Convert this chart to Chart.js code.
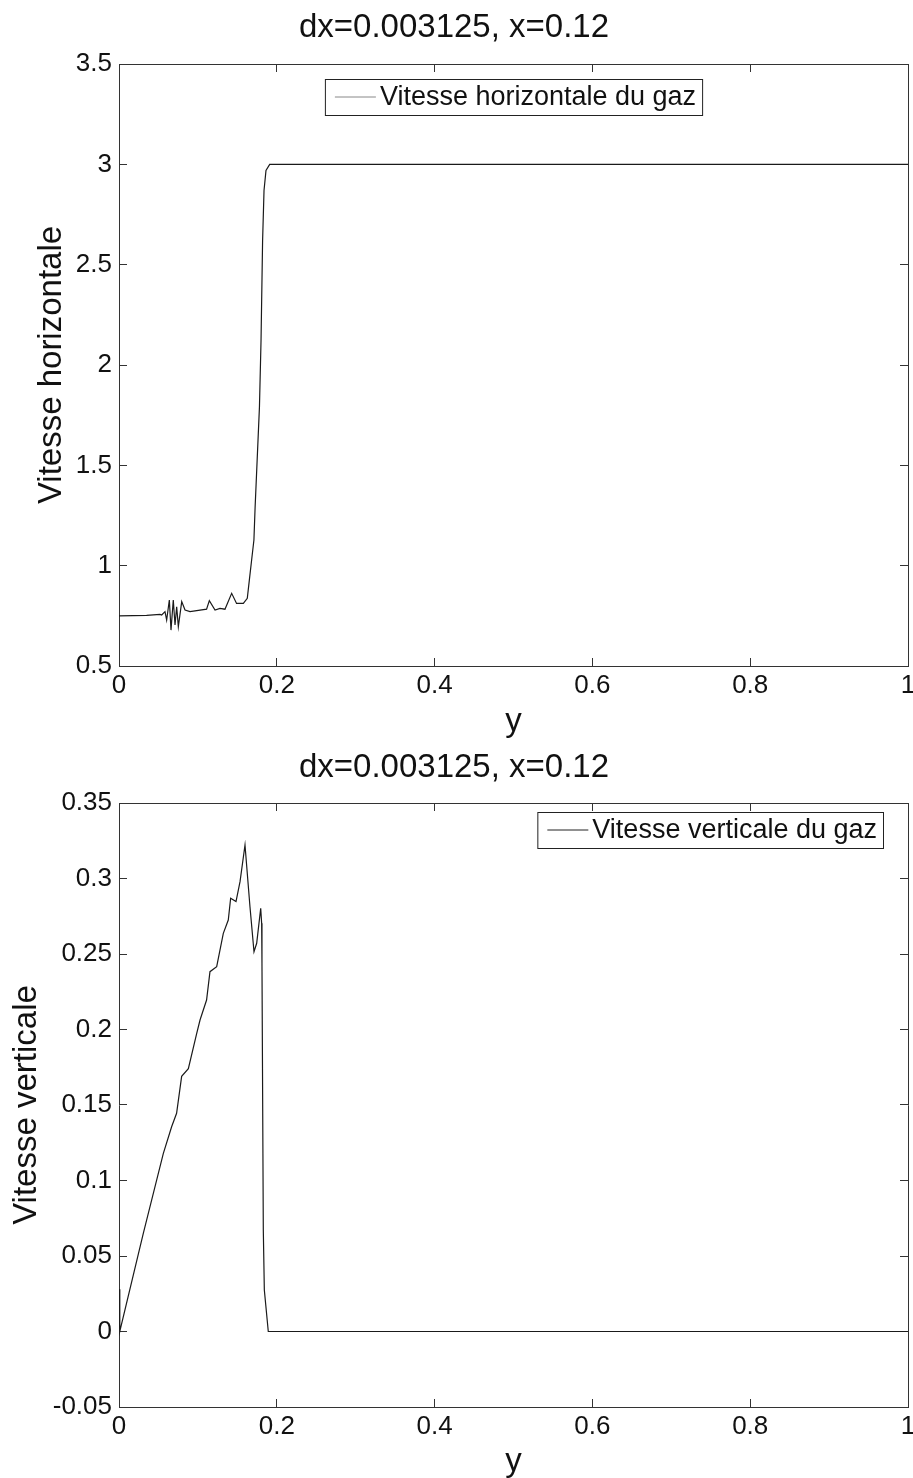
<!DOCTYPE html>
<html>
<head>
<meta charset="utf-8">
<script src="https://cdn.jsdelivr.net/npm/chart.js@4"></script>
<style>
  body { margin: 0; background: #fff; }
  .wrap { position: absolute; left: 0; width: 913px; }
</style>
</head>
<body>
<div class="wrap" style="top:0;height:740px"><canvas id="chartU" width="913" height="740"></canvas></div>
<div class="wrap" style="top:740px;height:738px"><canvas id="chartV" width="913" height="738"></canvas></div>
<script>
// horizontal gas velocity vs y
const yPosU = [0, 0.035, 0.052, 0.0541, 0.0583, 0.0604, 0.0638, 0.0659, 0.0688, 0.071, 0.0731,
  0.0752, 0.0795, 0.0837, 0.09, 0.0985, 0.111, 0.1145, 0.1217, 0.128, 0.1343, 0.1428, 0.149,
  0.1576, 0.1626, 0.1652, 0.1681, 0.171, 0.1725, 0.178, 0.18, 0.182, 0.1838, 0.1863, 0.191, 1];
const velU = [0.75, 0.752, 0.757, 0.754, 0.771, 0.729, 0.829, 0.679, 0.829, 0.704, 0.795,
  0.696, 0.821, 0.779, 0.771, 0.776, 0.783, 0.826, 0.779, 0.787, 0.783, 0.862, 0.812,
  0.812, 0.837, 0.928, 1.028, 1.128, 1.29, 1.79, 2.12, 2.62, 2.87, 2.97, 3.0, 3.0];

// vertical gas velocity vs y
const yPosV = [0, 0.001, 0.0308, 0.0562, 0.0667, 0.073, 0.0794, 0.0879, 0.0985, 0.1027, 0.111,
  0.1153, 0.1238, 0.1322, 0.1385, 0.1415, 0.1483, 0.1534, 0.1597, 0.166, 0.1711, 0.1745,
  0.1796, 0.1808, 0.1812, 0.1829, 0.1842, 0.1892, 1];
const velV = [0.028, 0.0, 0.065, 0.118, 0.1356, 0.1445, 0.169, 0.174, 0.1975, 0.2063, 0.2195,
  0.2383, 0.2416, 0.2637, 0.2725, 0.2869, 0.2847, 0.2979, 0.3222, 0.2813, 0.2515, 0.2571,
  0.2803, 0.2703, 0.2439, 0.0672, 0.0275, 0.0, 0.0];

const xTicks = [0, 0.2, 0.4, 0.6, 0.8, 1];
const yTicksU = [0.5, 1, 1.5, 2, 2.5, 3, 3.5];
const yTicksV = [-0.05, 0, 0.05, 0.1, 0.15, 0.2, 0.25, 0.3, 0.35];

const titleText = "dx=0.003125, x=0.12";
const FONT = "'Liberation Sans', Arial, Helvetica, sans-serif";
const AXIS = "#333";

// legend drawn as a framed box inside the plot, like the MATLAB one
const boxLegend = {
  id: "boxLegend",
  afterDraw(chart, args, opts) {
    const { ctx, chartArea } = chart;
    const ds = chart.data.datasets[0];
    ctx.save();
    ctx.font = "27px " + FONT;
    const tw = ctx.measureText(ds.label).width;
    const w = 10 + 41 + 4 + tw + 6;
    const h = 36;
    const x = opts.align === "center"
      ? (chartArea.left + chartArea.right) / 2 - w / 2
      : chartArea.right - opts.margin - w;
    const y = chartArea.top + opts.top;
    ctx.fillStyle = "#fff";
    ctx.fillRect(x, y, w, h);
    ctx.strokeStyle = "#222";
    ctx.lineWidth = 1;
    ctx.strokeRect(x + 0.5, y + 0.5, w, h);
    ctx.strokeStyle = opts.sampleColor;
    ctx.beginPath();
    ctx.moveTo(x + 10, y + h / 2);
    ctx.lineTo(x + 51, y + h / 2);
    ctx.stroke();
    ctx.fillStyle = "#111";
    ctx.textBaseline = "middle";
    ctx.fillText(ds.label, x + 55, y + h / 2 + 1);
    ctx.restore();
  },
};

const noPad = (s) => { s.paddingLeft = 0; s.paddingRight = 0; s.paddingTop = 0; s.paddingBottom = 0; };

function makeChart(id, label, xs, ys, yTicks, yTitle, opt) {
  const ctx = document.getElementById(id);
  const tickGrid = { drawOnChartArea: false, drawTicks: true, tickLength: -8, color: AXIS };
  const border = { display: true, color: AXIS, width: 1 };
  return new Chart(ctx, {
    type: "line",
    data: {
      datasets: [{
        label: label,
        data: xs.map((x, i) => ({ x: x, y: ys[i] })),
        borderColor: "#1a1a1a",
        borderWidth: 1.2,
        pointRadius: 0,
        tension: 0,
        fill: false,
      }],
    },
    options: {
      responsive: false,
      animation: false,
      devicePixelRatio: 1,
      layout: { padding: { left: 0, right: 5, top: 0, bottom: 0 } },
      plugins: {
        legend: { display: false },
        tooltip: { enabled: false },
        title: {
          display: true,
          text: titleText,
          color: "#111",
          font: { family: FONT, size: 33, weight: "normal", lineHeight: 1 },
          padding: { top: 11.5, bottom: opt.titleBottom },
        },
        boxLegend: opt.legend,
      },
      scales: {
        x: {
          type: "linear",
          position: "bottom",
          min: 0,
          max: 1,
          afterBuildTicks: (s) => { s.ticks = xTicks.map((v) => ({ value: v })); },
          afterFit: (s) => { s.height = opt.xHeight; noPad(s); },
          grid: tickGrid,
          border: border,
          ticks: {
            color: "#111",
            padding: 15,
            maxRotation: 0,
            font: { family: FONT, size: 26, lineHeight: 1 },
            callback: (v) => String(v),
          },
          title: {
            display: true,
            text: "y",
            color: "#111",
            font: { family: FONT, size: 33, lineHeight: 1 },
            padding: { top: 0, bottom: opt.xTitlePad },
          },
        },
        x2: {
          type: "linear",
          position: "top",
          min: 0,
          max: 1,
          afterBuildTicks: (s) => { s.ticks = xTicks.map((v) => ({ value: v })); },
          afterFit: (s) => { s.height = 0; noPad(s); },
          grid: tickGrid,
          border: border,
          ticks: { display: false },
        },
        y: {
          type: "linear",
          position: "left",
          min: yTicks[0],
          max: yTicks[yTicks.length - 1],
          afterBuildTicks: (s) => { s.ticks = yTicks.map((v) => ({ value: v })); },
          afterFit: (s) => { s.width = 119; noPad(s); },
          grid: tickGrid,
          border: border,
          ticks: {
            color: "#111",
            padding: 15,
            font: { family: FONT, size: 26, lineHeight: 1 },
            callback: (v) => String(v),
          },
          title: {
            display: true,
            text: yTitle,
            color: "#111",
            font: { family: FONT, size: 33, lineHeight: 1 },
            padding: { top: opt.yTitlePad, bottom: 0 },
          },
        },
        y2: {
          type: "linear",
          position: "right",
          min: yTicks[0],
          max: yTicks[yTicks.length - 1],
          afterBuildTicks: (s) => { s.ticks = yTicks.map((v) => ({ value: v })); },
          afterFit: (s) => { s.width = 0; noPad(s); },
          grid: tickGrid,
          border: border,
          ticks: { display: false },
        },
      },
    },
    plugins: [boxLegend],
  });
}

makeChart("chartU", "Vitesse horizontale du gaz", yPosU, velU, yTicksU, "Vitesse horizontale", {
  titleBottom: 19.5,
  xHeight: 74,
  xTitlePad: 1.5,
  yTitlePad: 35.5,
  legend: { align: "center", top: 15, sampleColor: "#888" },
});

makeChart("chartV", "Vitesse verticale du gaz", yPosV, velV, yTicksV, "Vitesse verticale", {
  titleBottom: 18.5,
  xHeight: 71,
  xTitlePad: 0,
  yTitlePad: 10.5,
  legend: { align: "end", margin: 25, top: 9, sampleColor: "#222" },
});
</script>
</body>
</html>
